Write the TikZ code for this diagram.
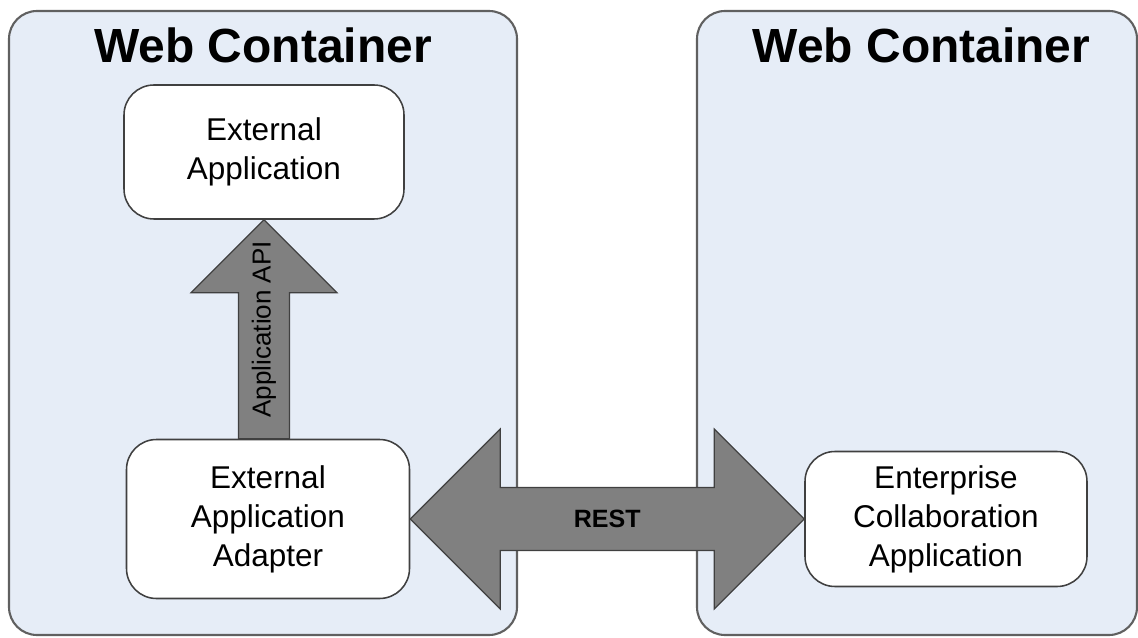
\documentclass[tikz,border=0pt]{standalone}
\usepackage{fontspec}
\setmainfont{Liberation Sans}
\usetikzlibrary{calc}

\definecolor{wcfill}{RGB}{230,237,247}
\definecolor{wcline}{RGB}{96,96,96}
\definecolor{boxline}{RGB}{64,64,64}
\definecolor{arrfill}{RGB}{128,128,128}

\tikzset{
    container/.style={draw=wcline, fill=wcfill, line width=1.5pt, rounded corners=0.7cm},
    wctitle/.style={anchor=base, font=\fontsize{34.1}{40}\selectfont\bfseries},
    appbox/.style={draw=boxline, fill=white, line width=1.1pt, rounded corners=0.75cm,
        inner sep=0pt, align=center, font=\fontsize{22.4}{27.7}\selectfont},
    fatarrow/.style={draw=boxline, fill=arrfill, line width=0.8pt, line join=miter}
}

\begin{document}
\begin{tikzpicture}
    \useasboundingbox (0,0) rectangle (28.45,15.925);

    % Containers
    \draw[container] (0.225,0.05) rectangle (12.925,15.65);
    \draw[container] (17.425,0.05) rectangle (28.425,15.65);
    \node[wctitle] (lefttitle) at (6.575,14.35) {Web Container};
    \node[wctitle] (righttitle) at (23.04,14.35) {Web Container};

    % Applications
    \node[appbox, minimum width=7cm, minimum height=3.35cm] (extapp)
        at (6.6,12.125) {External\\Application};
    \node[appbox, minimum width=7.075cm, minimum height=3.975cm] (adapter)
        at (6.7,2.95) {External\\Application\\Adapter};
    \node[appbox, minimum width=7.05cm, minimum height=3.375cm] (ecapp)
        at (23.65,2.95) {Enterprise\\Collaboration\\Application};

    % Application API
    \draw[fatarrow] (extapp.south) -- ++(1.825,-1.825) -- ++(-1.1875,0)
        -- ($(extapp.south |- adapter.north)+(0.6375,0)$) -- ++(-1.275,0)
        -- ($(extapp.south)+(-0.6375,-1.825)$) -- ++(-1.1875,0) -- cycle;
    \path (extapp.south) -- (extapp.south |- adapter.north)
        node[midway, rotate=90, font=\fontsize{18.5}{22}\selectfont] (apilabel) {Application API};

    % REST
    \draw[fatarrow] (adapter.east) -- ++(2.25,2.25) -- ++(0,-1.4625)
        -- ($(ecapp.west)+(-2.25,0.7875)$) -- ++(0,1.4625) -- (ecapp.west)
        -- ++(-2.25,-2.25) -- ++(0,1.4625)
        -- ($(adapter.east)+(2.25,-0.7875)$) -- ++(0,-1.4625) -- cycle;
    \path (adapter.east) -- (ecapp.west)
        node[midway, font=\fontsize{17.8}{21}\selectfont\bfseries] (restlabel) {REST};

\end{tikzpicture}
\end{document}
